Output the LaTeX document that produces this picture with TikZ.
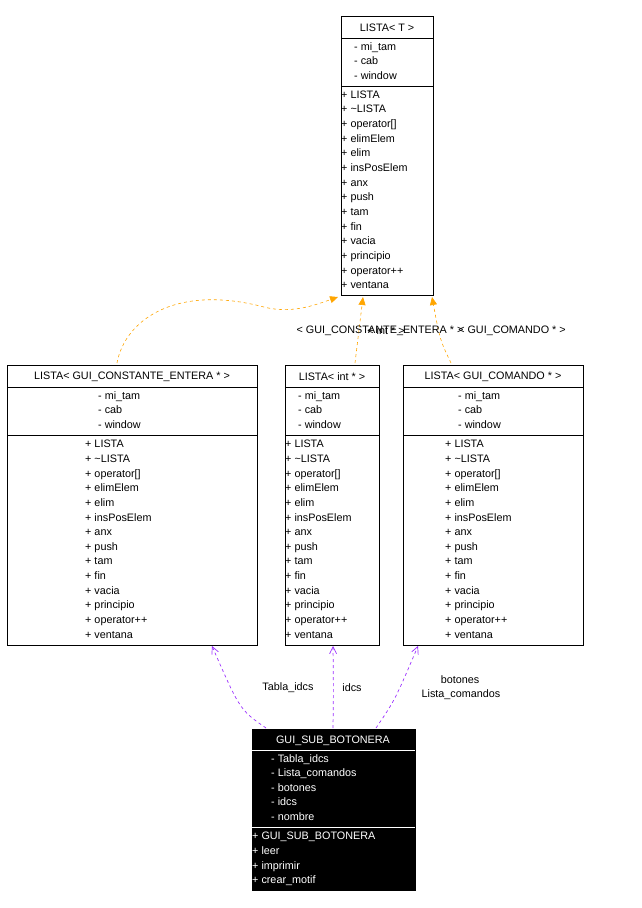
\documentclass[tikz,border=0pt]{standalone}
\usepackage{fontspec}
\setmainfont{Liberation Sans}
\usetikzlibrary{arrows.meta}
\begin{document}
\begin{tikzpicture}[x=1pt,y=-1pt,
  txt/.style={font=\fontsize{10.8}{14.65}\selectfont,inner sep=0pt,align=left,anchor=north west},
  boxr/.style={draw=black,line width=0.6pt},
  inh/.style={draw={rgb,255:red,255;green,165;blue,0},dashed,line width=0.6pt,-{Triangle[length=8pt,width=7pt,fill={rgb,255:red,255;green,165;blue,0}]}},
  use/.style={draw={rgb,255:red,155;green,48;blue,255},dashed,line width=0.7pt,-{Straight Barb[length=7pt,width=7pt]}},
  lbl/.style={font=\fontsize{10.8}{12}\selectfont,inner sep=0pt}]
\useasboundingbox (0,0) rectangle (642,908);
% top box
\node[boxr,minimum width=92pt,minimum height=279pt,anchor=north west,inner sep=0pt] (T) at (341,16) {};
\draw (341,38) -- (433,38); \draw (341,86) -- (433,86);
\node[lbl] (Tt) at (387,28) {LISTA< T >};
\node[txt] (Ta) at (354,42) {- mi\_tam\\- cab\\- window};
\node[txt] (Tm) at (341,90.5) {+ LISTA\\+ \textasciitilde LISTA\\+ operator[]\\+ elimElem\\+ elim\\+ insPosElem\\+ anx\\+ push\\+ tam\\+ fin\\+ vacia\\+ principio\\+ operator++\\+ ventana};
% left box
\node[boxr,minimum width=250pt,minimum height=280pt,anchor=north west,inner sep=0pt] (L) at (7,365) {};
\draw (7,387) -- (257,387); \draw (7,435) -- (257,435);
\node[lbl] (Lt) at (132,377) {LISTA< GUI\_CONSTANTE\_ENTERA * >};
\node[txt] (La) at (98,391) {- mi\_tam\\- cab\\- window};
\node[txt] (Lm) at (85,440) {+ LISTA\\+ \textasciitilde LISTA\\+ operator[]\\+ elimElem\\+ elim\\+ insPosElem\\+ anx\\+ push\\+ tam\\+ fin\\+ vacia\\+ principio\\+ operator++\\+ ventana};
% middle box
\node[boxr,minimum width=94pt,minimum height=280pt,anchor=north west,inner sep=0pt] (M) at (285,365) {};
\draw (285,387) -- (379,387); \draw (285,435) -- (379,435);
\node[lbl] (Mt) at (332,377) {LISTA< int * >};
\node[txt] (Ma) at (298,391) {- mi\_tam\\- cab\\- window};
\node[txt] (Mm) at (285,440) {+ LISTA\\+ \textasciitilde LISTA\\+ operator[]\\+ elimElem\\+ elim\\+ insPosElem\\+ anx\\+ push\\+ tam\\+ fin\\+ vacia\\+ principio\\+ operator++\\+ ventana};
% right box
\node[boxr,minimum width=180pt,minimum height=280pt,anchor=north west,inner sep=0pt] (R) at (403,365) {};
\draw (403,387) -- (583,387); \draw (403,435) -- (583,435);
\node[lbl] (Rt) at (493,377) {LISTA< GUI\_COMANDO * >};
\node[txt] (Ra) at (458,391) {- mi\_tam\\- cab\\- window};
\node[txt] (Rm) at (445,440) {+ LISTA\\+ \textasciitilde LISTA\\+ operator[]\\+ elimElem\\+ elim\\+ insPosElem\\+ anx\\+ push\\+ tam\\+ fin\\+ vacia\\+ principio\\+ operator++\\+ ventana};
% bottom box
\node[boxr,fill=black,minimum width=163pt,minimum height=161pt,anchor=north west,inner sep=0pt] (B) at (252,729) {};
\draw[white] (252,750) -- (415,750); \draw[white] (252,827) -- (415,827);
\node[lbl,text=white] (Bt) at (333,741) {GUI\_SUB\_BOTONERA};
\node[txt,text=white] (Ba) at (271,754) {- Tabla\_idcs\\- Lista\_comandos\\- botones\\- idcs\\- nombre};
\node[txt,text=white] (Bm) at (252,832) {+ GUI\_SUB\_BOTONERA\\+ leer\\+ imprimir\\+ crear\_motif};
% coordinates
\coordinate (l1) at (117,363); \coordinate (t1) at (338,297);
\coordinate (m1) at (355,363); \coordinate (t2) at (363,297);
\coordinate (r1) at (451,363); \coordinate (t3) at (432,297);
\coordinate (b1) at (266,728); \coordinate (lb) at (212,646);
\coordinate (b2) at (333,728); \coordinate (mb) at (333,646);
\coordinate (b3) at (376,728); \coordinate (rb) at (418,646);
\coordinate (w1) at (260,306);
\draw[inh] (l1) .. controls (125,320) and (175,285) .. (w1) .. controls (290,315) and (315,305) .. (t1);
\draw[inh] (m1) -- (t2);
\draw[inh] (r1) .. controls (440,340) .. (t3);
\draw[use] (b1) .. controls (240,710) .. (lb);
\draw[use] (b2) .. controls (333.5,690) .. (mb);
\draw[use] (b3) .. controls (395,700) .. (rb);
\node[lbl] (e1) at (380,331) {< GUI\_CONSTANTE\_ENTERA * >};
\node[lbl] (e2) at (386,331) {< int * >};
\node[lbl] (e3) at (512,331) {< GUI\_COMANDO * >};
\node[lbl] (u1) at (288,688) {Tabla\_idcs};
\node[lbl] (u2) at (352,688) {idcs};
\node[lbl] (u3) at (460,680) {botones};
\node[lbl] (u4) at (461,695) {Lista\_comandos};
\end{tikzpicture}
\end{document}
